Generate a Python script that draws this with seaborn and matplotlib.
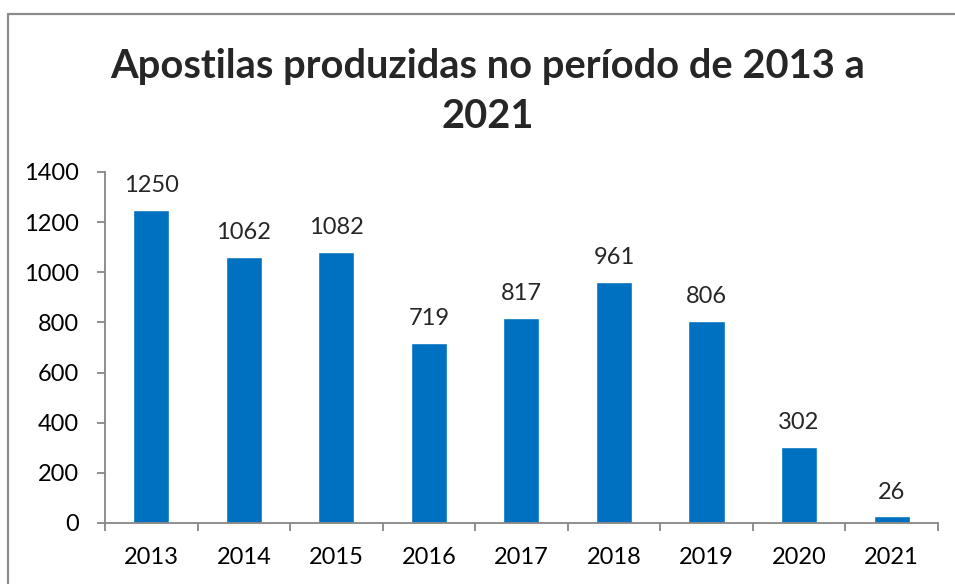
import matplotlib
matplotlib.use('Agg')
import matplotlib.pyplot as plt
import seaborn as sns
import pandas as pd
from matplotlib.lines import Line2D

years = ['2013', '2014', '2015', '2016', '2017', '2018', '2019', '2020', '2021']
apostilas = [1250, 1062, 1082, 719, 817, 961, 806, 302, 26]
y_ticks = [0, 200, 400, 600, 800, 1000, 1200, 1400]

df = pd.DataFrame({'ano': years, 'apostilas': apostilas})

sns.set_style('white')
plt.rcParams['font.family'] = ['Lato', 'DejaVu Sans']

fig = plt.figure(figsize=(9.55, 5.84), dpi=100)
ax = fig.add_axes([0.110, 0.1045, 0.872, 0.601])

sns.barplot(data=df, x='ano', y='apostilas', color='#0070C0', width=0.39,
            saturation=1, ax=ax)

ax.set_ylim(0, 1400)
ax.set_xlim(-0.5, len(years) - 0.5)
ax.set_yticks(y_ticks)
ax.set_xlabel('')
ax.set_ylabel('')

gray = '#868686'
for s in ['top', 'right']:
    ax.spines[s].set_visible(False)
for s in ['left', 'bottom']:
    ax.spines[s].set_color(gray)
    ax.spines[s].set_linewidth(1.3)

# ticks: y outward, x at category boundaries
ax.tick_params(axis='y', direction='out', length=6, width=1.3, color=gray,
               labelsize=17, pad=13, left=True, labelcolor='black')
ax.set_xticks([i - 0.5 for i in range(len(years) + 1)], minor=True)
ax.tick_params(axis='x', which='minor', direction='out', length=6, width=1.3,
               color=gray, bottom=True)
ax.tick_params(axis='x', which='major', length=0, labelsize=17, pad=17,
               labelcolor='black')

for c in ax.containers:
    ax.bar_label(c, labels=[str(v) for v in apostilas], padding=10, fontsize=17)

# title in two lines, like the Excel chart
fig.text(0.511, 1 - 78 / 584, 'Apostilas produzidas no período de 2013 a',
         ha='center', va='baseline', fontsize=28.7, fontweight='bold')
fig.text(0.511, 1 - 128 / 584, '2021',
         ha='center', va='baseline', fontsize=28.7, fontweight='bold')

# chart area border (only top/left visible in the crop)
fig.add_artist(Line2D([8 / 955, 8 / 955], [0, 1 - 14 / 584],
                      transform=fig.transFigure, color='#8c8c8c', lw=1.6))
fig.add_artist(Line2D([8 / 955, 1], [1 - 14 / 584, 1 - 14 / 584],
                      transform=fig.transFigure, color='#8c8c8c', lw=1.6))

fig.savefig('out.png', dpi=100)
